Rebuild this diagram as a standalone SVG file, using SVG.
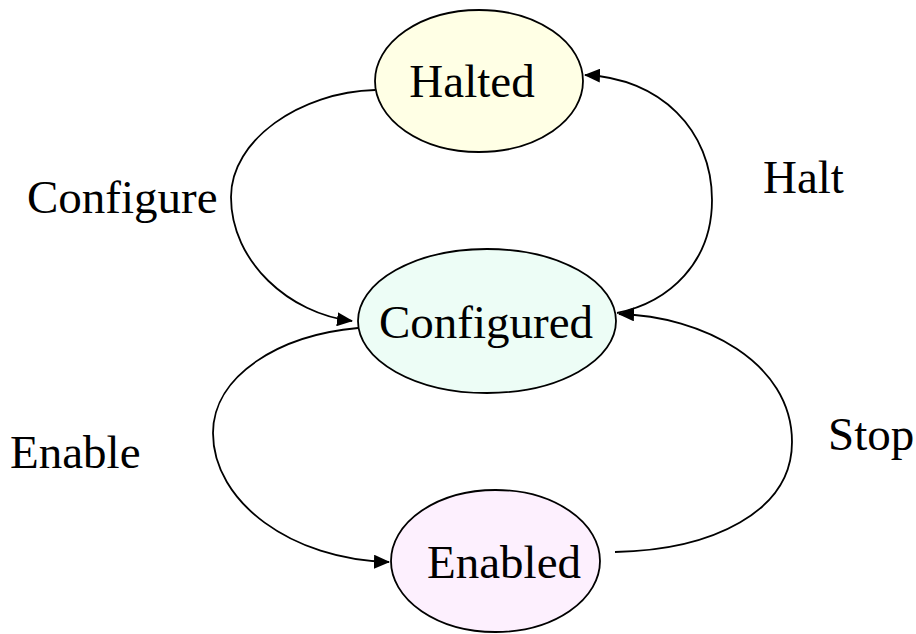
<svg xmlns="http://www.w3.org/2000/svg" width="916" height="634" viewBox="0 0 916 634">
  <style>
    .state { stroke: #000; stroke-width: 1.8; }
    .label { font-family: "Liberation Serif", "Times New Roman", serif; font-size: 47px; fill: #000; }
    .edge { fill: none; stroke: #000; stroke-width: 1.8; marker-end: url(#arrow); }
  </style>
  <defs>
    <marker id="arrow" markerUnits="userSpaceOnUse" markerWidth="16" markerHeight="14" viewBox="0 0 16 14" refX="15" refY="7" orient="auto">
      <path d="M0,0 L16,7 L0,14 Z" fill="#000"/>
    </marker>
  </defs>
  <rect width="916" height="634" fill="#fff"/>

  <!-- transitions -->
  <g id="connectors">
    <path class="edge" d="M375,90 C300,92 231,140 231,197 C231,262 290,314 352,321"/>
    <path class="edge" d="M617,313 C670,302 712,262 712,200 C712,130 660,78 585,75"/>
    <path class="edge" d="M358,328 C280,335 213,375 213,433 C213,502 292,560 389,562"/>
    <path class="edge" d="M615,552 C712,550 792,512 792,442 C792,362 702,316 619,314"/>
    <text class="label" x="27" y="213">Configure</text>
    <text class="label" x="763" y="193">Halt</text>
    <text class="label" x="10" y="468">Enable</text>
    <text class="label" x="828" y="450">Stop</text>
  </g>

  <!-- states -->
  <g id="halted">
    <ellipse class="state" cx="479" cy="81" rx="104" ry="71" fill="#ffffe5"/>
    <text class="label" x="472" y="97" text-anchor="middle">Halted</text>
  </g>
  <g id="configured">
    <ellipse class="state" cx="487" cy="321" rx="129" ry="72" fill="#edfdf6"/>
    <text class="label" x="486" y="338" text-anchor="middle">Configured</text>
  </g>
  <g id="enabled">
    <ellipse class="state" cx="495.5" cy="561" rx="104.5" ry="71" fill="#fdf0fe"/>
    <text class="label" x="504" y="578" text-anchor="middle">Enabled</text>
  </g>
</svg>
